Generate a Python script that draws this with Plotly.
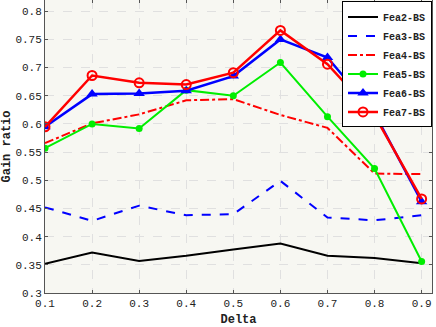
#-- Gain ratio vs Delta for the six BS feature sets

import plotly.graph_objects as go

delta = [0.1, 0.2, 0.3, 0.4, 0.5, 0.6, 0.7, 0.8, 0.9]

fea2 = [0.352, 0.372, 0.357, 0.366, 0.377, 0.388, 0.366, 0.362, 0.353]
fea3 = [0.452, 0.428, 0.455, 0.438, 0.440, 0.499, 0.434, 0.429, 0.438]
fea4 = [0.566, 0.601, 0.617, 0.642, 0.644, 0.616, 0.593, 0.512, 0.511]
fea5 = [0.557, 0.600, 0.592, 0.660, 0.650, 0.709, 0.613, 0.521, 0.356]
fea6 = [0.595, 0.653, 0.654, 0.659, 0.685, 0.750, 0.718, 0.619, 0.462]
fea7 = [0.595, 0.686, 0.673, 0.670, 0.691, 0.766, 0.706, 0.615, 0.467]

y_ticks = [0.3, 0.35, 0.4, 0.45, 0.5, 0.55, 0.6, 0.65, 0.7, 0.75, 0.8]
y_tick_text = ["0.3", "0.35", "0.4", "0.45", "0.5", "0.55", "0.6", "0.65", "0.7", "0.75", "0.8"]
x_ticks = [0.1, 0.2, 0.3, 0.4, 0.5, 0.6, 0.7, 0.8, 0.9]

mono = "Liberation Mono, Courier New, monospace"

fig = go.Figure()

fig.add_trace(go.Scatter(x=delta, y=fea2, name="<b>Fea2-BS</b>", mode="lines",
                         line=dict(color="black", width=2)))
fig.add_trace(go.Scatter(x=delta, y=fea3, name="<b>Fea3-BS</b>", mode="lines",
                         line=dict(color="blue", width=2, dash="dash")))
fig.add_trace(go.Scatter(x=delta, y=fea4, name="<b>Fea4-BS</b>", mode="lines",
                         line=dict(color="red", width=2, dash="dashdot")))
fig.add_trace(go.Scatter(x=delta, y=fea5, name="<b>Fea5-BS</b>", mode="lines+markers",
                         line=dict(color="#00ee00", width=2),
                         marker=dict(symbol="circle", size=7, color="#00ee00")))
fig.add_trace(go.Scatter(x=delta, y=fea6, name="<b>Fea6-BS</b>", mode="lines+markers",
                         line=dict(color="blue", width=2.5),
                         marker=dict(symbol="triangle-up", size=10, color="blue")))
fig.add_trace(go.Scatter(x=delta, y=fea7, name="<b>Fea7-BS</b>", mode="lines+markers",
                         line=dict(color="red", width=2.5),
                         marker=dict(symbol="circle-open", size=9, color="red",
                                     line=dict(width=2))))

fig.update_xaxes(range=[0.1, 0.922], tickvals=x_ticks, ticks="inside", ticklen=3,
                 tickcolor="#555555", showline=True, linecolor="#555555", linewidth=1,
                 mirror="ticks", showgrid=True, gridcolor="#e0e0e0", griddash="dash",
                 gridwidth=1, zeroline=False, automargin=False,
                 tickfont=dict(family=mono, size=11, color="#222222"),
                 title=dict(text="<b>Delta</b>", font=dict(family=mono, size=12, color="#222222")))
fig.update_yaxes(range=[0.3, 0.82], tickvals=y_ticks, ticktext=y_tick_text, ticks="inside",
                 ticklen=3, tickcolor="#555555", showline=True, linecolor="#555555",
                 linewidth=1, mirror="ticks", showgrid=True, gridcolor="#e0e0e0",
                 griddash="dash", gridwidth=1, zeroline=False, automargin=False,
                 tickfont=dict(family=mono, size=11, color="#222222"),
                 title=dict(text="<b>Gain ratio</b>", font=dict(family=mono, size=12, color="#222222")))

fig.update_layout(width=436, height=327,
                  margin=dict(l=45, r=4, t=0, b=34),
                  paper_bgcolor="white", plot_bgcolor="#f7f7f2",
                  legend=dict(x=1, y=0.995, xanchor="right", yanchor="top",
                              bgcolor="white", bordercolor="black", borderwidth=1,
                              font=dict(family=mono, size=10, color="#222222"),
                              tracegroupgap=0, itemwidth=30),
                  showlegend=True)

# page body has a default 8px margin, drop it so the figure sits at the corner
fig.write_html("out.html", config={"displayModeBar": False},
               post_script="document.body.style.margin='0px';")
